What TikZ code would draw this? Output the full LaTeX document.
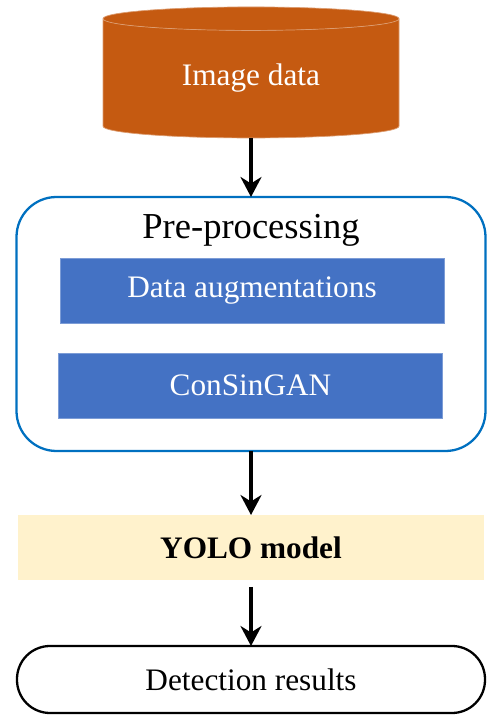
\documentclass[tikz,border=0pt]{standalone}
\usepackage{fontspec}
\setmainfont{Liberation Serif}
\usepackage{tikz}
\usetikzlibrary{arrows.meta,shapes.geometric}
\definecolor{rust}{HTML}{C55A11}
\definecolor{boxblue}{HTML}{4472C4}
\definecolor{lineblue}{HTML}{0070C0}
\definecolor{paleyellow}{HTML}{FFF2CC}
\tikzset{
  every node/.style={inner sep=0pt, outer sep=0pt, align=center},
  bodytext/.style={font=\fontsize{17.8}{20}\selectfont},
  bluebox/.style={bodytext, fill=boxblue, draw=boxblue!70!white, line width=0.3pt, text=white, minimum width=7.68cm, minimum height=1.3cm},
  flow/.style={-{Stealth[length=0.4cm,width=0.42cm]}, line width=2pt, black},
}
\begin{document}
\begin{tikzpicture}
\useasboundingbox (0,0) rectangle (9.96,14.54);
% Image data cylinder
\node[bodytext, cylinder, shape border rotate=90, aspect=0.17, cylinder uses custom fill,
  cylinder body fill=rust, cylinder end fill=rust, draw=rust!60!white, line width=0.4pt,
  text=white, minimum width=5.92cm, minimum height=2.62cm] (data) at (5.02,12.97) {Image data};

% Pre-processing container
\node[draw=lineblue, line width=1.3pt, rounded corners=0.8cm, minimum width=9.38cm, minimum height=5.08cm] (prep) at (5.02,8.06) {};
\node[font=\fontsize{20.8}{24}\selectfont] (preptitle) at (5.02,9.94) {Pre-processing};
\node[bluebox] (augment) at (5.04,8.73) {Data augmentations};
\node[bluebox] (gan) at (5.01,6.83) {ConSinGAN};

% Model and results
\node[bodytext, fill=paleyellow, minimum width=9.32cm, minimum height=1.3cm, font=\fontsize{17.8}{20}\selectfont\bfseries] (yolo) at (5.02,3.59) {YOLO model};
\node[bodytext, draw=black, line width=1.3pt, rounded corners=0.66cm, minimum width=9.36cm, minimum height=1.34cm] (result) at (5.02,0.95) {Detection results};

% Arrows
\draw[flow] (data.south) -- (prep.north);
\draw[flow] (prep.south) -- (yolo.north);
\draw[flow, shorten <=0.14cm] (yolo.south) -- (result.north);
\end{tikzpicture}
\end{document}
